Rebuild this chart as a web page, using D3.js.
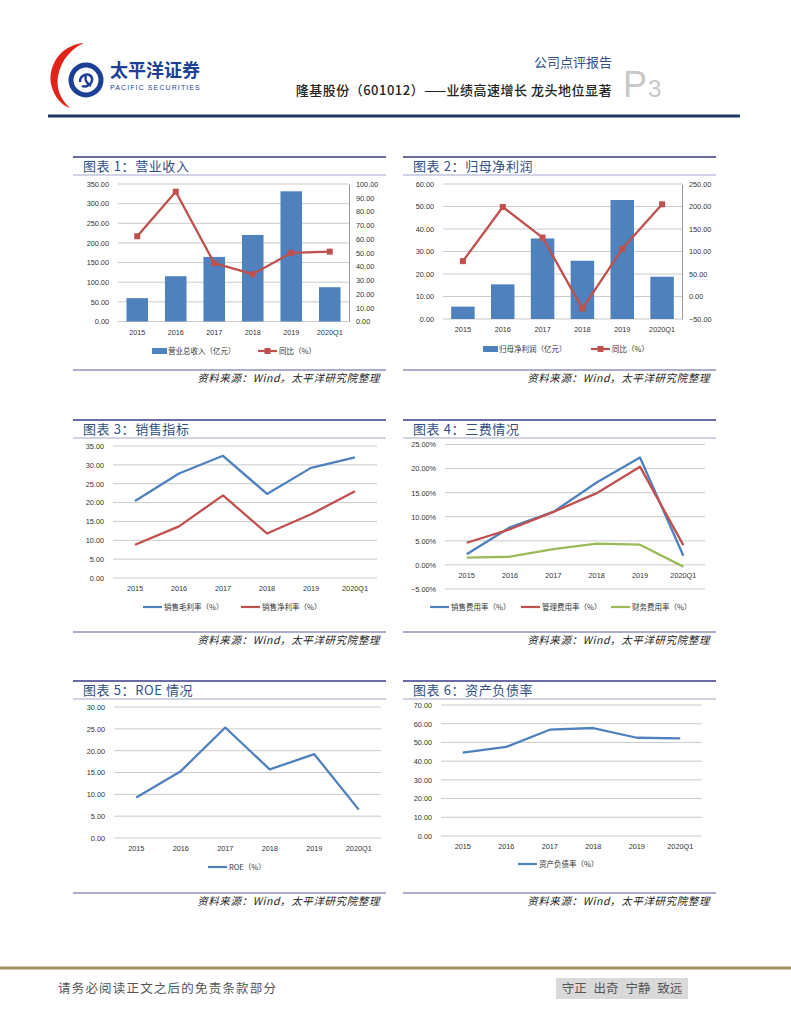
<!DOCTYPE html>
<html>
<head>
<meta charset="utf-8">
<script src="https://cdn.jsdelivr.net/npm/d3@7"></script>
<style>
body { margin: 0; background: #fff; }
text { font-family: "Liberation Sans", Arial, sans-serif; }
.cn { font-family: "Noto Sans CJK SC", sans-serif; }
</style>
</head>
<body>
<svg width="791" height="1024"></svg>
<script>
// 数据
var years = ["2015", "2016", "2017", "2018", "2019", "2020Q1"];

var revenue = [59.5, 115.3, 164.4, 220.3, 331.4, 87.3];        // 营业总收入（亿元）
var revenueYoy = [62.0, 94.4, 42.4, 34.4, 49.9, 50.8];         // 同比（%）
var netProfit = [5.5, 15.4, 35.8, 25.9, 52.9, 18.8];           // 归母净利润（亿元）
var netProfitYoy = [78.6, 199.0, 131.0, -27.0, 105.9, 204.9];  // 同比（%）
var grossMargin = [20.4, 27.7, 32.4, 22.3, 29.2, 32.0];        // 销售毛利率
var netMargin = [8.8, 13.7, 21.9, 11.8, 16.9, 23.0];           // 销售净利率
var sellingRate = [2.2, 7.8, 11.0, 17.1, 22.3, 1.9];           // 销售费用率
var adminRate = [4.6, 7.4, 11.0, 14.9, 20.4, 4.1];             // 管理费用率
var financeRate = [1.5, 1.7, 3.3, 4.4, 4.2, -0.35];            // 财务费用率
var roe = [9.3, 15.3, 25.3, 15.7, 19.2, 6.5];
var debtRatio = [44.5, 47.6, 56.8, 57.7, 52.5, 52.2];

var svg = d3.select("svg");
var BLUE = "#4f81bd", RED = "#c0504d", GREEN = "#9bbb59";

// ---------- 页眉 ----------
var head = svg.append("g");
head.append("path")
    .attr("d", "M84,43 C60,45 48,66 51,84 C54,98 63,106 70,108 C60,99 56,88 58,76 C61,60 72,48 84,43 Z")
    .attr("fill", "#e2231a");
head.append("circle").attr("cx", 86).attr("cy", 80).attr("r", 15)
    .attr("fill", "none").attr("stroke", "#1d3f95").attr("stroke-width", 5);
head.append("path")
    .attr("d", "M80,82 C80,74 90,72 92,78 C93,84 86,88 82,86 M86,76 C84,80 88,84 91,86")
    .attr("fill", "none").attr("stroke", "#1d3f95").attr("stroke-width", 2.5);
head.append("text").attr("class", "cn").attr("x", 110).attr("y", 77)
    .attr("font-size", 18).attr("font-weight", 700).attr("fill", "#1d3f95")
    .text("太平洋证券");
head.append("text").attr("x", 110).attr("y", 89.5)
    .attr("font-size", 7).attr("letter-spacing", 1.1).attr("fill", "#1d3f95")
    .text("PACIFIC SECURITIES");
head.append("text").attr("class", "cn").attr("x", 612).attr("y", 67)
    .attr("text-anchor", "end").attr("font-size", 13).attr("fill", "#2f4f86")
    .text("公司点评报告");
head.append("text").attr("class", "cn").attr("x", 612).attr("y", 95)
    .attr("text-anchor", "end").attr("font-size", 13).attr("font-weight", 500)
    .attr("letter-spacing", 0.5).attr("fill", "#222")
    .text("隆基股份（601012）——业绩高速增长 龙头地位显著");
head.append("text").attr("x", 623).attr("y", 97)
    .attr("font-family", "Liberation Serif").attr("font-size", 36).attr("fill", "#c8c8c8")
    .text("P");
head.append("text").attr("x", 648).attr("y", 97)
    .attr("font-family", "Liberation Serif").attr("font-size", 24).attr("fill", "#c8c8c8")
    .text("3");
head.append("line").attr("x1", 48).attr("x2", 740).attr("y1", 116).attr("y2", 116)
    .attr("stroke", "#1f3864").attr("stroke-width", 3);

// ---------- 页脚 ----------
svg.append("line").attr("x1", 0).attr("x2", 791).attr("y1", 968).attr("y2", 968)
    .attr("stroke", "#9c9068").attr("stroke-width", 3);
svg.append("text").attr("class", "cn").attr("x", 58).attr("y", 993)
    .attr("font-size", 12.5).attr("letter-spacing", 1.2).attr("fill", "#555")
    .text("请务必阅读正文之后的免责条款部分");
svg.append("rect").attr("x", 556).attr("y", 978).attr("width", 132).attr("height", 21)
    .attr("fill", "#d9d9d9");
svg.append("text").attr("class", "cn").attr("x", 622).attr("y", 993)
    .attr("text-anchor", "middle").attr("font-size", 12.5).attr("fill", "#555")
    .attr("word-spacing", 4)
    .text("守正 出奇 宁静 致远");

// ---------- 面板框架 ----------
function panel(x0, x1, top, title, bottom) {
    var g = svg.append("g");
    g.append("line").attr("x1", x0).attr("x2", x1).attr("y1", top).attr("y2", top)
        .attr("stroke", "#6b6ca6").attr("stroke-width", 2);
    g.append("text").attr("class", "cn").attr("x", x0 + 10).attr("y", top + 14)
        .attr("font-size", 13).attr("letter-spacing", 0.6).attr("fill", "#2f4f86")
        .text(title);
    g.append("line").attr("x1", x0).attr("x2", x1).attr("y1", top + 18).attr("y2", top + 18)
        .attr("stroke", "#a4a5cc").attr("stroke-width", 1);
    g.append("line").attr("x1", x0).attr("x2", x1).attr("y1", bottom).attr("y2", bottom)
        .attr("stroke", "#8f90bf").attr("stroke-width", 1.5);
    g.append("text").attr("class", "cn").attr("x", x1 - 6).attr("y", bottom + 12)
        .attr("text-anchor", "end").attr("font-size", 10.5).attr("letter-spacing", 0.6)
        .attr("font-style", "italic").attr("fill", "#222")
        .text("资料来源：Wind，太平洋研究院整理");
}

// 网格线 + 左轴
function leftAxis(g, y, x0, x1, ticks, fmt) {
    g.append("g").selectAll("line").data(ticks).enter().append("line")
        .attr("x1", x0).attr("x2", x1)
        .attr("y1", function (d) { return y(d); })
        .attr("y2", function (d) { return y(d); })
        .attr("stroke", "#bdbdbd").attr("stroke-width", 0.8);
    var ax = g.append("g").attr("transform", "translate(" + x0 + ",0)")
        .call(d3.axisLeft(y).tickValues(ticks).tickFormat(fmt).tickSize(0).tickPadding(9));
    ax.select(".domain").remove();
    ax.selectAll("text").attr("font-size", 7.3).attr("fill", "#333");
}

function bottomAxis(g, x, yPos) {
    var ax = g.append("g").attr("transform", "translate(0," + yPos + ")")
        .call(d3.axisBottom(x).tickSize(0).tickPadding(8));
    ax.select(".domain").remove();
    ax.selectAll("text").attr("font-size", 7.3).attr("fill", "#333");
}

function drawLine(g, x, y, values, color, marker) {
    var line = d3.line()
        .x(function (d, i) { return x(years[i]) + x.bandwidth() / 2; })
        .y(function (d) { return y(d); });
    g.append("path").datum(values).attr("d", line)
        .attr("fill", "none").attr("stroke", color).attr("stroke-width", 2.3)
        .attr("stroke-linejoin", "round");
    if (marker) {
        g.selectAll(".mk").data(values).enter().append("rect")
            .attr("x", function (d, i) { return x(years[i]) + x.bandwidth() / 2 - 3; })
            .attr("y", function (d) { return y(d) - 3; })
            .attr("width", 6).attr("height", 6).attr("fill", color);
    }
}

// 图例: items = [{type, color, label, x}]
function legend(g, yPos, items) {
    items.forEach(function (it) {
        if (it.type === "bar") {
            g.append("rect").attr("x", it.x).attr("y", yPos - 3).attr("width", 15).attr("height", 6)
                .attr("fill", it.color);
            g.append("text").attr("class", "cn").attr("x", it.x + 16).attr("y", yPos + 3)
                .attr("font-size", 7.5).attr("fill", "#333").text(it.label);
        } else {
            g.append("line").attr("x1", it.x).attr("x2", it.x + 19).attr("y1", yPos).attr("y2", yPos)
                .attr("stroke", it.color).attr("stroke-width", 2.2);
            if (it.marker) {
                g.append("rect").attr("x", it.x + 6.5).attr("y", yPos - 3).attr("width", 6).attr("height", 6)
                    .attr("fill", it.color);
            }
            g.append("text").attr("class", "cn").attr("x", it.x + 21).attr("y", yPos + 3)
                .attr("font-size", 7.5).attr("fill", "#333").text(it.label);
        }
    });
}

var f2 = d3.format(".2f");
var fPct = function (d) { return d3.format(".2f")(d) + "%"; };

// ---------- 图表 1 ----------
panel(73, 386, 157, "图表 1：营业收入", 370);
(function () {
    var g = svg.append("g");
    var x = d3.scaleBand().domain(years).range([118, 349]).paddingInner(0.44).paddingOuter(0.22);
    var y = d3.scaleLinear().domain([0, 350]).range([321.5, 184]);
    var y2 = d3.scaleLinear().domain([0, 100]).range([321.5, 184]);
    leftAxis(g, y, 118, 349, d3.range(0, 351, 50), f2);
    var ax = g.append("g").attr("transform", "translate(349,0)")
        .call(d3.axisRight(y2).tickValues(d3.range(0, 101, 10)).tickFormat(f2).tickSize(0).tickPadding(7));
    ax.select(".domain").attr("stroke", "#999");
    ax.selectAll("text").attr("font-size", 7.3).attr("fill", "#333");
    g.selectAll(".bar").data(revenue).enter().append("rect")
        .attr("x", function (d, i) { return x(years[i]); })
        .attr("y", function (d) { return y(d); })
        .attr("width", x.bandwidth())
        .attr("height", function (d) { return y(0) - y(d); })
        .attr("fill", BLUE);
    bottomAxis(g, x, 321.5);
    var xl = x.copy().paddingInner(0).paddingOuter(0);
    drawLine(g, xl, y2, revenueYoy, RED, true);
    legend(g, 351, [
        { type: "bar", color: BLUE, label: "营业总收入（亿元）", x: 152 },
        { type: "line", color: RED, label: "同比（%）", x: 258, marker: true }
    ]);
})();

// ---------- 图表 2 ----------
panel(403, 716, 157, "图表 2：归母净利润", 370);
(function () {
    var g = svg.append("g");
    var x = d3.scaleBand().domain(years).range([443, 682]).paddingInner(0.41).paddingOuter(0.205);
    var y = d3.scaleLinear().domain([0, 60]).range([319, 184]);
    var y2 = d3.scaleLinear().domain([-50, 250]).range([319, 184]);
    leftAxis(g, y, 443, 682, d3.range(0, 61, 10), f2);
    var ax = g.append("g").attr("transform", "translate(682,0)")
        .call(d3.axisRight(y2).tickValues(d3.range(-50, 251, 50)).tickFormat(f2).tickSize(0).tickPadding(7));
    ax.select(".domain").attr("stroke", "#999");
    ax.selectAll("text").attr("font-size", 7.3).attr("fill", "#333");
    g.selectAll(".bar").data(netProfit).enter().append("rect")
        .attr("x", function (d, i) { return x(years[i]); })
        .attr("y", function (d) { return y(d); })
        .attr("width", x.bandwidth())
        .attr("height", function (d) { return y(0) - y(d); })
        .attr("fill", BLUE);
    bottomAxis(g, x, 319);
    var xl = x.copy().paddingInner(0).paddingOuter(0);
    drawLine(g, xl, y2, netProfitYoy, RED, true);
    legend(g, 349, [
        { type: "bar", color: BLUE, label: "归母净利润（亿元）", x: 483 },
        { type: "line", color: RED, label: "同比（%）", x: 591, marker: true }
    ]);
})();

// ---------- 图表 3 ----------
panel(73, 386, 420, "图表 3：销售指标", 632);
(function () {
    var g = svg.append("g");
    var x = d3.scaleBand().domain(years).range([113, 377]);
    var y = d3.scaleLinear().domain([0, 35]).range([578, 446]);
    leftAxis(g, y, 113, 377, d3.range(0, 36, 5), f2);
    bottomAxis(g, x, 578);
    drawLine(g, x, y, grossMargin, BLUE, false);
    drawLine(g, x, y, netMargin, RED, false);
    legend(g, 607, [
        { type: "line", color: BLUE, label: "销售毛利率（%）", x: 143 },
        { type: "line", color: RED, label: "销售净利率（%）", x: 241 }
    ]);
})();

// ---------- 图表 4 ----------
panel(403, 716, 420, "图表 4：三费情况", 632);
(function () {
    var g = svg.append("g");
    var x = d3.scaleBand().domain(years).range([445, 705]);
    var y = d3.scaleLinear().domain([-5, 25]).range([589, 444.5]);
    leftAxis(g, y, 445, 705, d3.range(-5, 26, 5), fPct);
    bottomAxis(g, x, y(0));
    drawLine(g, x, y, sellingRate, BLUE, false);
    drawLine(g, x, y, adminRate, RED, false);
    drawLine(g, x, y, financeRate, GREEN, false);
    legend(g, 607, [
        { type: "line", color: BLUE, label: "销售费用率（%）", x: 430 },
        { type: "line", color: RED, label: "管理费用率（%）", x: 521 },
        { type: "line", color: GREEN, label: "财务费用率（%）", x: 611 }
    ]);
})();

// ---------- 图表 5 ----------
panel(73, 386, 681, "图表 5：ROE 情况", 893);
(function () {
    var g = svg.append("g");
    var x = d3.scaleBand().domain(years).range([114, 381]);
    var y = d3.scaleLinear().domain([0, 30]).range([838, 707]);
    leftAxis(g, y, 114, 381, d3.range(0, 31, 5), f2);
    bottomAxis(g, x, 838);
    drawLine(g, x, y, roe, BLUE, false);
    legend(g, 867, [
        { type: "line", color: BLUE, label: "ROE（%）", x: 208 }
    ]);
})();

// ---------- 图表 6 ----------
panel(403, 716, 681, "图表 6：资产负债率", 893);
(function () {
    var g = svg.append("g");
    var x = d3.scaleBand().domain(years).range([441, 702]);
    var y = d3.scaleLinear().domain([0, 70]).range([836, 705]);
    leftAxis(g, y, 441, 702, d3.range(0, 71, 10), f2);
    bottomAxis(g, x, 836);
    drawLine(g, x, y, debtRatio, BLUE, false);
    legend(g, 864, [
        { type: "line", color: BLUE, label: "资产负债率（%）", x: 518 }
    ]);
})();
</script>
</body>
</html>
